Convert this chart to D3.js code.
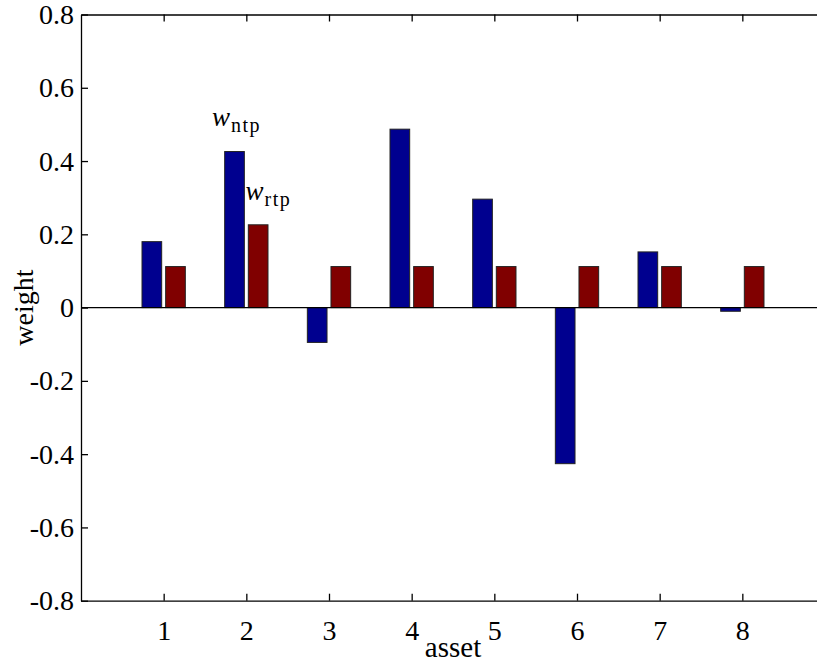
<!DOCTYPE html>
<html>
<head>
<meta charset="utf-8">
<script src="https://cdn.jsdelivr.net/npm/d3@7"></script>
<style>
  body { margin: 0; background: #fff; }
  svg { display: block; }
  svg text { font-family: "Liberation Serif", "DejaVu Serif", serif; fill: #000; }
  .axis path, .axis line { stroke: #000; stroke-width: 1.3; }
</style>
</head>
<body>
<svg width="817" height="664"></svg>
<script>
// data
const assets = [1, 2, 3, 4, 5, 6, 7, 8]
const wNtp = [0.180, 0.426, -0.095, 0.487, 0.296, -0.426, 0.152, -0.010]
const wRtp = [0.112, 0.226, 0.112, 0.112, 0.112, 0.112, 0.112, 0.112]
const yTicks = [-0.8, -0.6, -0.4, -0.2, 0, 0.2, 0.4, 0.6, 0.8]
// text labels placed in data coordinates
const notes = [
  {main: 'w', sub: 'ntp', x: 1.585, y: 0.496},
  {main: 'w', sub: 'rtp', x: 1.99, y: 0.294}
]

const svg = d3.select('svg')
const margin = {left: 81, top: 14.5, right: 825, bottom: 600.7}
const serif = '"Liberation Serif", "DejaVu Serif", serif'

// x axis runs 0..9, the right end falls outside the window
const x = d3.scaleLinear().domain([0, 9]).range([margin.left, margin.right])
const y = d3.scaleLinear().domain([-0.8, 0.8]).range([margin.bottom, margin.top])

const barW = 0.238
const offset = 0.143
const series = [
  {values: wNtp, color: '#00008f', dx: -offset},
  {values: wRtp, color: '#800000', dx: offset}
]

// bars
series.forEach(s => {
  svg.append('g')
    .selectAll('rect')
    .data(assets)
    .join('rect')
      .attr('x', (d, i) => x(d + s.dx - barW / 2))
      .attr('width', x(barW) - x(0))
      .attr('y', (d, i) => y(Math.max(0, s.values[i])))
      .attr('height', (d, i) => Math.abs(y(s.values[i]) - y(0)))
      .attr('fill', s.color)
      .attr('stroke', '#222')
      .attr('stroke-width', 1)
})

// zero line
svg.append('line')
  .attr('x1', x(0)).attr('x2', x(9))
  .attr('y1', y(0)).attr('y2', y(0))
  .attr('stroke', '#000').attr('stroke-width', 1.2)

const fmt = d => d === 0 ? '0' : d.toFixed(1)

// axes, ticks point inwards
svg.append('g')
  .attr('class', 'axis')
  .attr('transform', 'translate(0,' + margin.bottom + ')')
  .call(d3.axisBottom(x).tickValues(assets).tickSize(-7).tickSizeOuter(0).tickPadding(19).tickFormat(d3.format('d')))
  .call(g => g.selectAll('text').style('font-family', serif).style('font-size', '28px'))
svg.append('g')
  .attr('class', 'axis')
  .attr('transform', 'translate(0,' + margin.top + ')')
  .call(d3.axisTop(x).tickValues(assets).tickSize(-7).tickSizeOuter(0).tickFormat(''))
svg.append('g')
  .attr('class', 'axis')
  .attr('transform', 'translate(' + margin.left + ',0)')
  .call(d3.axisLeft(y).tickValues(yTicks).tickSize(-7).tickSizeOuter(0).tickPadding(7).tickFormat(fmt))
  .call(g => g.selectAll('text').style('font-family', serif).style('font-size', '28px'))
svg.append('g')
  .attr('class', 'axis')
  .attr('transform', 'translate(' + margin.right + ',0)')
  .call(d3.axisRight(y).tickValues(yTicks).tickSize(-7).tickSizeOuter(0).tickFormat(''))

// axis titles
svg.append('text')
  .attr('x', (margin.left + margin.right) / 2)
  .attr('y', 657)
  .attr('text-anchor', 'middle')
  .attr('font-size', 29)
  .text('asset')
svg.append('text')
  .attr('transform', 'translate(33,' + (margin.top + margin.bottom) / 2 + ') rotate(-90)')
  .attr('text-anchor', 'middle')
  .attr('font-size', 28)
  .text('weight')

// series labels: italic w with a roman subscript
notes.forEach(n => {
  const t = svg.append('text')
    .attr('x', x(n.x))
    .attr('y', y(n.y))
    .attr('font-size', 27)
  t.append('tspan').attr('font-style', 'italic').text(n.main)
  t.append('tspan').attr('font-size', 20).attr('dy', 6).attr('dx', 1)
    .attr('letter-spacing', 1.5).text(n.sub)
})
</script>
</body>
</html>
